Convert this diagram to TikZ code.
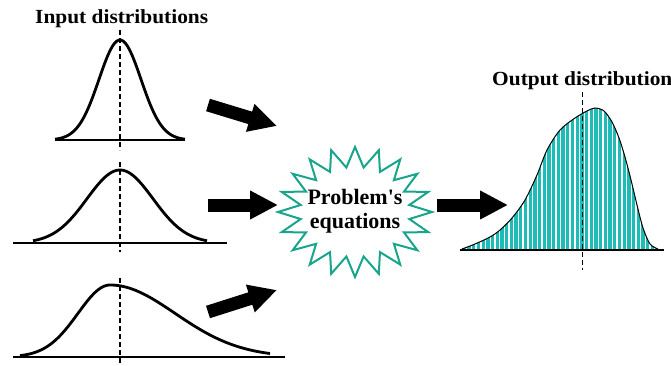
\documentclass[tikz,border=0pt]{standalone}
\usepackage{fontspec}
\setmainfont{Liberation Serif}
\newfontfamily\lblfont{Liberation Serif}[FakeStretch=1.07]
\newfontfamily\eqfont{Liberation Serif}
\usetikzlibrary{arrows.meta}
\definecolor{barteal}{RGB}{30,188,182}
\definecolor{starteal}{RGB}{25,165,140}
\begin{document}
\begin{tikzpicture}[x=1pt,y=-1pt,
 lbl/.style={font=\lblfont\fontsize{20}{22}\selectfont\bfseries, inner sep=0pt},
 curve/.style={line width=2.8pt, line join=round},
 base/.style={line width=1.8pt},
 meanline/.style={line width=1.6pt, dash pattern=on 5pt off 3pt},
 blockarrow/.style={line width=13pt, -{Triangle[length=28pt,width=27pt]}},
]
\useasboundingbox (0,0) rectangle (671,365);

% labels
\node[lbl, anchor=base west] (inlbl) at (35,23) {Input distributions};
\node[lbl, anchor=base west] (outlbl) at (492,85) {Output distribution};

% input curve 1
\draw[base] (55,140) -- (185,140);
\draw[curve] plot[domain=55:185, samples=80] (\x, {140-100*exp(-0.5*((\x-120)/21)*((\x-120)/21))});
\draw[meanline] (120,30) -- (120,150);

% input curve 2
\draw[base] (13,243) -- (227,243);
\draw[curve] plot[domain=33:207, samples=80] (\x, {243-73*exp(-0.5*((\x-120)/33)*((\x-120)/33))});
\draw[meanline] (120,162) -- (120,252);

% input curve 3 (skewed)
\draw[base] (13,357) -- (285,357);
\draw[curve] plot[domain=20:110, samples=50] (\x, {357-72*exp(-0.5*((\x-110)/32)*((\x-110)/32))})
  -- plot[domain=110:270, samples=80] (\x, {357-72*exp(-0.5*((\x-110)/65)*((\x-110)/65))});
\draw[meanline] (120,278) -- (120,365);

% arrow end points
\coordinate (a1s) at (208,105); \coordinate (a1e) at (277,126);
\coordinate (a2s) at (208,205); \coordinate (a2e) at (278,205);
\coordinate (a3s) at (208,312); \coordinate (a3e) at (277,290);
\coordinate (a4s) at (437,205); \coordinate (a4e) at (508,205);

\draw[blockarrow] (a1s) -- (a1e);
\draw[blockarrow] (a2s) -- (a2e);
\draw[blockarrow] (a3s) -- (a3e);

% star
\draw[starteal, line width=2pt, line join=miter, fill=white]
  plot[domain=0:40, samples=41, variable=\k]
  ({355+(66+11*cos(180*\k))*cos(9*\k)}, {212-(55+10*cos(180*\k))*sin(9*\k)}) -- cycle;
\node[font=\eqfont\fontsize{22}{24}\selectfont\bfseries, align=center, inner sep=0pt] (eq) at (355,211) {Problem's\\equations};

\draw[blockarrow] (a4s) -- (a4e);

% output distribution
\def\outcurve{(462,249) (475,244) (490,237) (500,230) (512,218) (525,200) (537,175) (547,150) (560,130) (575,118) (587,111) (595,108) (604,111) (612,122) (619,138) (625,157) (631,180) (637,205) (643,228) (650,244) (658,249)}
\begin{scope}
\clip plot[smooth] coordinates {\outcurve} -- cycle;
\fill[barteal] (455,100) rectangle (665,252);
\foreach \i in {0,...,43} \draw[white, line width=1.4pt] ({462+4.7*\i},100) -- ++(0,155);
\end{scope}
\draw[line width=1pt] plot[smooth] coordinates {\outcurve};
\draw[line width=1.4pt] (460,250) -- (664,250);
\draw[line width=1pt, dash pattern=on 5pt off 3pt] (582,92) -- (582,270);
\end{tikzpicture}
\end{document}
